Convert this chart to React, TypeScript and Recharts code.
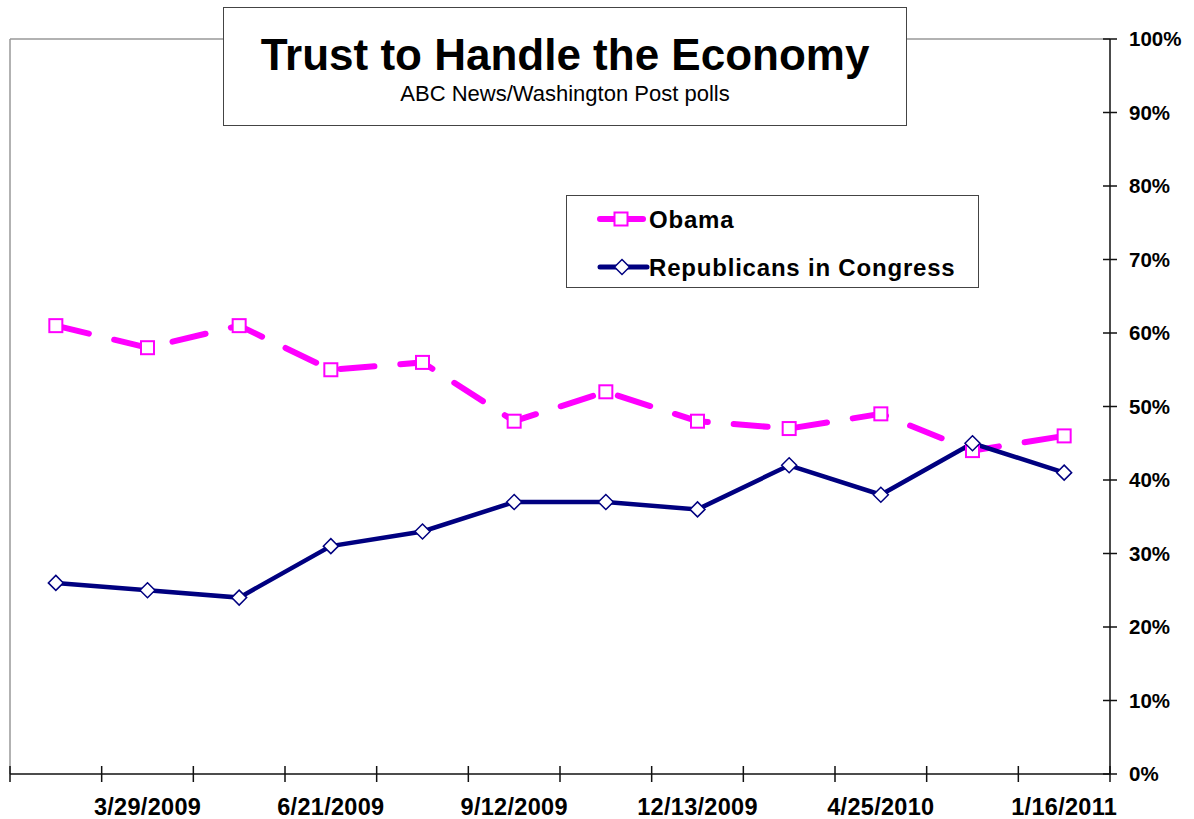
import React from 'react';
import { LineChart, Line, XAxis, YAxis, ReferenceLine } from 'recharts';

// poll dates (only every other one is labelled on the axis)
const DATES = [
  '2/22/2009', '3/29/2009', '4/24/2009', '6/21/2009', '7/18/2009', '9/12/2009',
  '10/18/2009', '12/13/2009', '2/8/2010', '4/25/2010', '10/3/2010', '1/16/2011',
];
const OBAMA = [61, 58, 61, 55, 56, 48, 52, 48, 47, 49, 44, 46];
const REPUBLICANS = [26, 25, 24, 31, 33, 37, 37, 36, 42, 38, 45, 41];
const Y_TICKS = [0, 10, 20, 30, 40, 50, 60, 70, 80, 90, 100];

const MAGENTA = '#ff00ff';
const NAVY = '#000080';
const FONT = '"Liberation Sans", Arial, sans-serif';

const data = DATES.map((date, i) => ({
  date,
  pos: i + 0.5,
  obama: OBAMA[i],
  rep: REPUBLICANS[i],
}));

// tick marks sit between polls, labels in the middle of every second poll
const xTicks: number[] = [];
for (let i = 0; i <= DATES.length; i++) {
  xTicks.push(i);
  if (i % 2 === 1 && i < DATES.length) xTicks.push(i + 0.5);
}

const XTick = (props: any) => {
  const { x, y, payload } = props;
  const v = payload.value;
  if (Number.isInteger(v)) {
    return <line x1={x} x2={x} y1={y - 8} y2={y + 8} stroke="#111" strokeWidth={1.5} />;
  }
  return (
    <text x={x} y={y + 41} textAnchor="middle" fontFamily={FONT} fontWeight="bold" fontSize={23.5} letterSpacing={0.3} fill="#000">
      {DATES[Math.floor(v)]}
    </text>
  );
};

const YTick = (props: any) => {
  const { x, y, payload } = props;
  return (
    <g>
      <line x1={x - 7} x2={x + 7} y1={y} y2={y} stroke="#111" strokeWidth={1.5} />
      <text x={x + 19} y={y} dy="0.36em" textAnchor="start" fontFamily={FONT} fontWeight="bold" fontSize={20.5} fill="#000">
        {`${payload.value}%`}
      </text>
    </g>
  );
};

const SquareDot = (props: any) => {
  const { cx, cy, index } = props;
  return <rect key={`sq-${index}`} x={cx - 6.5} y={cy - 6.5} width={13} height={13} fill="#fff" stroke={MAGENTA} strokeWidth={2} />;
};

const DiamondDot = (props: any) => {
  const { cx, cy, index } = props;
  return (
    <polygon
      key={`dm-${index}`}
      points={`${cx},${cy - 7.5} ${cx + 7.5},${cy} ${cx},${cy + 7.5} ${cx - 7.5},${cy}`}
      fill="#fff"
      stroke={NAVY}
      strokeWidth={1.5}
    />
  );
};

const LegendBox = () => (
  <div
    style={{
      position: 'absolute', left: 566, top: 195, width: 411, height: 91,
      border: '1.5px solid #444', background: '#fff',
    }}
  >
    <svg width={411} height={91} style={{ position: 'absolute', left: 0, top: 0 }}>
      <line x1={33} x2={76} y1={23} y2={23} stroke={MAGENTA} strokeWidth={6} strokeLinecap="round" />
      <rect x={47.5} y={16.5} width={13} height={13} fill="#fff" stroke={MAGENTA} strokeWidth={2} />
      <text x={82} y={23} dy="0.36em" fontFamily={FONT} fontWeight="bold" fontSize={24} letterSpacing={0.8}>Obama</text>
      <line x1={33} x2={80} y1={71} y2={71} stroke={NAVY} strokeWidth={5} strokeLinecap="round" />
      <polygon points="55,63.5 62.5,71 55,78.5 47.5,71" fill="#fff" stroke={NAVY} strokeWidth={1.5} />
      <text x={82} y={71} dy="0.36em" fontFamily={FONT} fontWeight="bold" fontSize={24} letterSpacing={0.8}>Republicans in Congress</text>
    </svg>
  </div>
);

const TitleBox = () => (
  <div
    style={{
      position: 'absolute', left: 223, top: 7, width: 682, height: 117,
      border: '1.5px solid #444', background: '#fff', textAlign: 'center', fontFamily: FONT,
    }}
  >
    <div style={{ fontSize: 44, fontWeight: 'bold', marginTop: 22, lineHeight: '50px' }}>Trust to Handle the Economy</div>
    <div style={{ fontSize: 22, lineHeight: '24px', marginTop: 2 }}>ABC News/Washington Post polls</div>
  </div>
);

export default function App() {
  return (
    <div style={{ position: 'absolute', left: 0, top: 0, width: 1194, height: 819, background: '#fff' }}>
      <LineChart width={1194} height={819} data={data} margin={{ top: 39, right: 0, bottom: 0, left: 10 }}>
        <ReferenceLine x={0} stroke="#999" strokeWidth={1.5} />
        <ReferenceLine y={100} stroke="#999" strokeWidth={1.5} />
        <XAxis
          type="number"
          dataKey="pos"
          domain={[0, DATES.length]}
          ticks={xTicks}
          interval={0}
          height={45}
          tickSize={0}
          tickMargin={0}
          tickLine={false}
          axisLine={{ stroke: '#111', strokeWidth: 1.5 }}
          tick={<XTick />}
        />
        <YAxis
          orientation="right"
          domain={[0, 100]}
          ticks={Y_TICKS}
          interval={0}
          width={84}
          tickSize={0}
          tickMargin={0}
          tickLine={false}
          axisLine={{ stroke: '#111', strokeWidth: 1.5 }}
          tick={<YTick />}
        />
        <Line
          dataKey="obama"
          stroke={MAGENTA}
          strokeWidth={6}
          strokeDasharray="34 26"
          strokeLinecap="round"
          dot={<SquareDot />}
          isAnimationActive={false}
        />
        <Line
          dataKey="rep"
          stroke={NAVY}
          strokeWidth={4.5}
          dot={<DiamondDot />}
          isAnimationActive={false}
        />
      </LineChart>
      <TitleBox />
      <LegendBox />
    </div>
  );
}
